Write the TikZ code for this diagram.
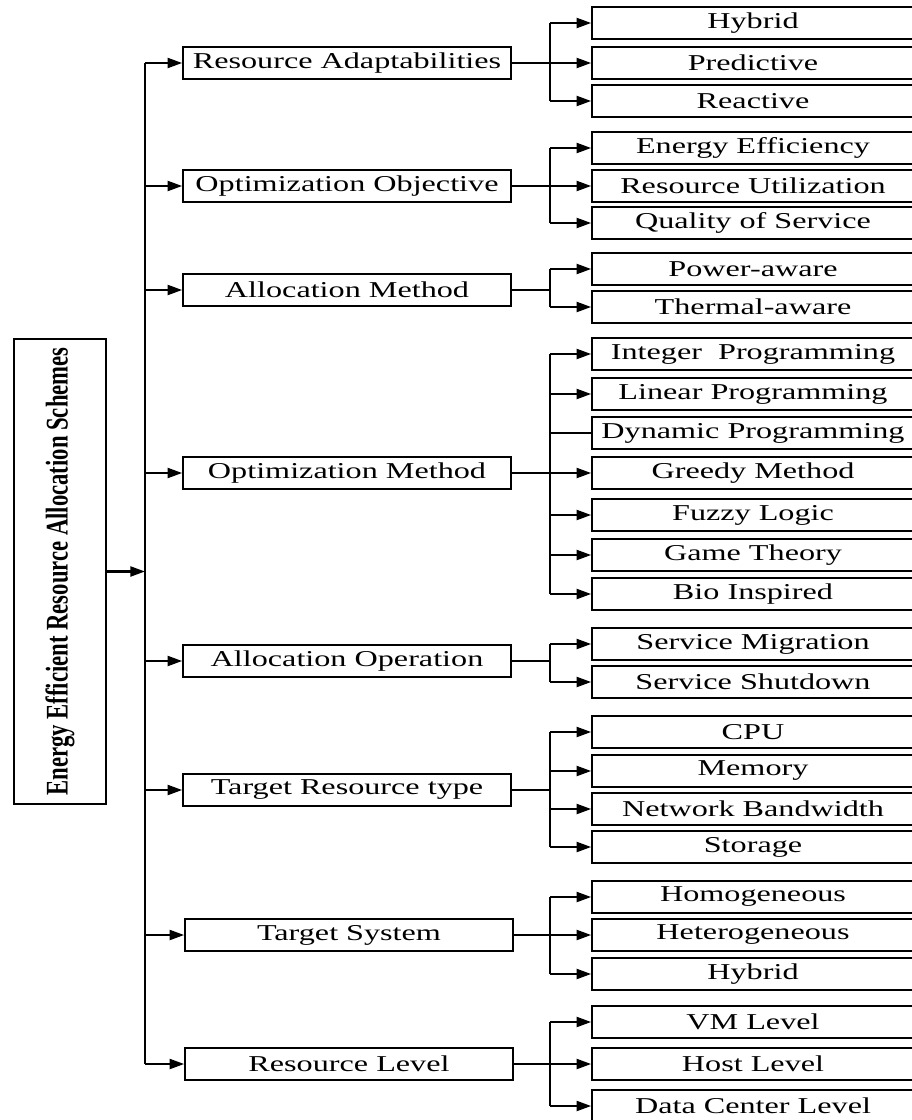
\documentclass[tikz,border=0pt]{standalone}
\usepackage{fontspec}
\setmainfont{Liberation Serif}[FakeStretch=1.42]
\newfontfamily\rootfont{Liberation Serif}
\usetikzlibrary{arrows.meta}
\begin{document}
\begin{tikzpicture}[x=0.75pt,y=-0.75pt,
  box/.style={draw, line width=1.2pt, inner sep=0pt, font=\fontsize{17pt}{19pt}\selectfont},
  cat/.style={box, minimum width=246pt, minimum height=24pt},
  leaf/.style={box, minimum width=241.5pt, minimum height=24pt},
  conn/.style={line width=1.7pt},
  arr/.style={conn, -{Triangle[length=11pt,width=7.5pt]}},
  plain/.style={line width=0.8pt}]
\useasboundingbox (0,0) rectangle (911,1120);

% root
\node[draw, line width=1.2pt, inner sep=0pt, minimum width=69pt, minimum height=348.75pt] (root) at (60,571.5)
  {\rotatebox{90}{\scalebox{1.08}[1.5]{\rootfont\bfseries\fontsize{15.75pt}{18pt}\selectfont Energy Efficient Resource Allocation Schemes}}};

% categories
\node[cat] (ra) at (347,63) {Resource Adaptabilities};
\node[cat] (oo) at (347,186) {Optimization Objective};
\node[cat] (am) at (347,290) {Allocation Method};
\node[cat] (om) at (347,473) {Optimization Method};
\node[cat] (ao) at (347,661) {Allocation Operation};
\node[cat] (tr) at (347,790) {Target Resource type};
\node[cat] (ts) at (349,935) {Target System};
\node[cat] (rl) at (349,1064) {Resource Level};

% leaves
\node[leaf] (ra1) at (753,23) {Hybrid};
\node[leaf] (ra2) at (753,63) {Predictive};
\node[leaf] (ra3) at (753,101) {Reactive};
\node[leaf] (oo1) at (753,148) {Energy Efficiency};
\node[leaf] (oo2) at (753,186) {Resource Utilization};
\node[leaf] (oo3) at (753,223) {Quality of Service};
\node[leaf] (am1) at (753,269) {Power-aware};
\node[leaf] (am2) at (753,307) {Thermal-aware};
\node[leaf] (om1) at (753,354) {Integer~ Programming};
\node[leaf] (om2) at (753,394) {Linear Programming};
\node[leaf] (om3) at (753,433) {Dynamic Programming};
\node[leaf] (om4) at (753,473) {Greedy Method};
\node[leaf] (om5) at (753,515) {Fuzzy Logic};
\node[leaf] (om6) at (753,555) {Game Theory};
\node[leaf] (om7) at (753,594) {Bio Inspired};
\node[leaf] (ao1) at (753,644) {Service Migration};
\node[leaf] (ao2) at (753,682) {Service Shutdown};
\node[leaf] (tr1) at (753,732) {CPU};
\node[leaf] (tr2) at (753,771) {Memory};
\node[leaf] (tr3) at (753,809) {Network Bandwidth};
\node[leaf] (tr4) at (753,847) {Storage};
\node[leaf] (ts1) at (753,897) {Homogeneous};
\node[leaf] (ts2) at (753,935) {Heterogeneous};
\node[leaf] (ts3) at (753,974) {Hybrid};
\node[leaf] (rl1) at (753,1022) {VM Level};
\node[leaf] (rl2) at (753,1064) {Host Level};
\node[leaf] (rl3) at (753,1106) {Data Center Level};

% trunk
\coordinate (tk) at (145,0);
\coordinate (bx) at (550,0);
\draw[arr] (root.east) -- (root.east -| tk);
\draw[conn] (ra.west -| tk) -- (rl.west -| tk);
\foreach \c in {ra,oo,am,om,ao,tr,ts,rl}
  \draw[arr] (\c.west -| tk) -- (\c.west);

% branches
\foreach \p/\f/\l in {ra/ra1/ra3, oo/oo1/oo3, am/am1/am2, om/om1/om7, ao/ao1/ao2, tr/tr1/tr4, ts/ts1/ts3, rl/rl1/rl3}{
  \draw[conn] (\p.east) -- (\p.east -| bx);
  \draw[conn] (\f.west -| bx) -- (\l.west -| bx);
}
\foreach \c in {ra1,ra2,ra3,oo1,oo2,oo3,am1,am2,om1,om2,om4,om5,om6,om7,ao1,ao2,tr1,tr2,tr3,tr4,ts1,ts2,ts3,rl1,rl2,rl3}
  \draw[arr] (\c.west -| bx) -- (\c.west);
\draw[plain] (om3.west -| bx) -- (om3.west);
\end{tikzpicture}
\end{document}
